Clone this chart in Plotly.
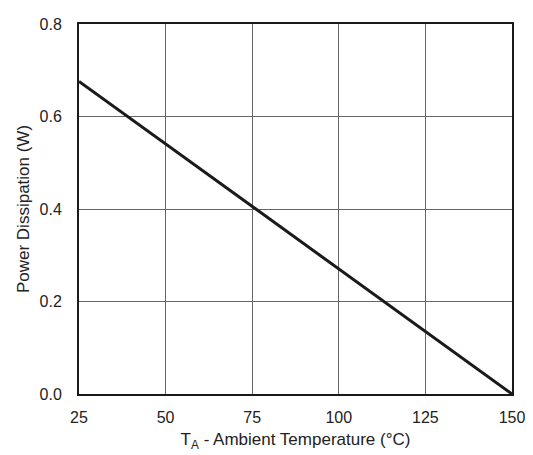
import plotly.graph_objects as go

temps = [25, 150]
power = [0.676, 0.0]
x_ticks = [25, 50, 75, 100, 125, 150]
y_ticks = [0.0, 0.2, 0.4, 0.6, 0.8]
y_labels = ["0.0", "0.2", "0.4", "0.6", "0.8"]

fig = go.Figure()
fig.add_trace(go.Scatter(x=temps, y=power, mode="lines",
                         line=dict(color="#1a1a1a", width=3), showlegend=False))

fig.update_layout(
    width=525, height=447,
    margin=dict(l=71, r=18, t=8, b=61),
    paper_bgcolor="white", plot_bgcolor="white",
    font=dict(family="Liberation Sans, Arial, sans-serif", size=16, color="#222"),
)
fig.update_xaxes(range=[25, 150], tickvals=x_ticks, showgrid=True, gridcolor="#666", gridwidth=1,
                 showline=True, linecolor="#1a1a1a", linewidth=2, mirror=True, zeroline=False,
                 ticks="", ticklen=0, ticklabelstandoff=8,
                 title=dict(text="T<sub>A</sub> - Ambient Temperature (°C)", font=dict(size=17), standoff=8))
fig.update_yaxes(range=[0, 0.8], tickvals=y_ticks, ticktext=y_labels, showgrid=True, gridcolor="#666", gridwidth=1,
                 showline=True, linecolor="#1a1a1a", linewidth=2, mirror=True, zeroline=False,
                 ticks="", ticklen=0, ticklabelstandoff=12,
                 title=dict(text="Power Dissipation (W)", font=dict(size=17), standoff=6))

fig.write_html("out.html")
